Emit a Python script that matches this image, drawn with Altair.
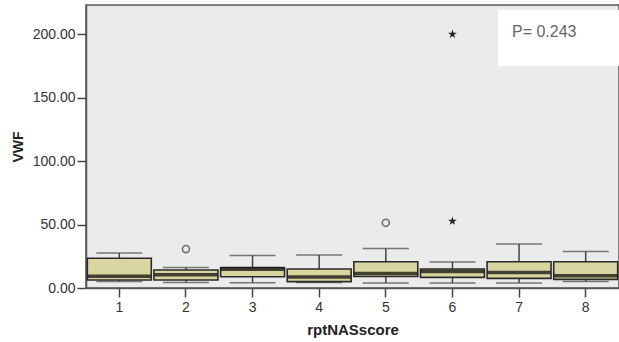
import altair as alt
import pandas as pd

cats = ["1", "2", "3", "4", "5", "6", "7", "8"]
mins = [5.2, 4.4, 4.2, 4.4, 3.9, 3.9, 3.9, 5.2]
q1s = [6.3, 6.3, 8.9, 5.0, 9.1, 8.4, 7.6, 6.8]
medians = [9.2, 10.5, 14.8, 8.6, 11.5, 13.0, 12.3, 9.7]
q3s = [23.5, 14.2, 16.2, 15.0, 20.7, 15.0, 20.7, 20.7]
maxs = [27.5, 16.2, 25.7, 26.0, 31.2, 20.5, 34.6, 28.8]

out_cats = ["2", "5", "6", "6"]
out_vals = [30.7, 51.4, 52.7, 200.0]
out_kind = ["circle", "circle", "star", "star"]

box = pd.DataFrame({"cat": cats, "lo": mins, "q1": q1s, "med": medians, "q3": q3s, "hi": maxs})
outl = pd.DataFrame({"cat": out_cats, "val": out_vals, "kind": out_kind})

xs = alt.X("cat:N", title="rptNASscore", sort=cats,
           scale=alt.Scale(paddingInner=0.04, paddingOuter=0.02),
           axis=alt.Axis(labelAngle=0, labelFontSize=14, labelColor="#333", labelFont="Liberation Sans",
                         titleFontSize=15, titleFont="Liberation Sans", titleFontWeight="bold",
                         titleColor="#222", titlePadding=8, tickSize=9, tickColor="#444",
                         tickWidth=1.5, domainColor="#555", domainWidth=1.5, labelPadding=3))
ysc = alt.Scale(domain=[0, 223], nice=False, zero=False)
yax = alt.Axis(values=[0, 50, 100, 150, 200], format=".2f", grid=False, labelFontSize=14,
               labelColor="#333", labelFont="Liberation Sans", titleFontSize=14,
               titleFont="Liberation Sans", titleFontWeight="bold", titleColor="#222",
               titlePadding=7, tickSize=9, tickColor="#444", tickWidth=1.5, domainColor="#555",
               domainWidth=1.5, labelPadding=2)

base = alt.Chart(box)

w_lo = base.mark_rule(color="#444", strokeWidth=1.5).encode(
    x=xs, y=alt.Y("lo:Q", title="VWF", scale=ysc, axis=yax), y2="q1:Q")
w_hi = base.mark_rule(color="#444", strokeWidth=1.5).encode(
    x=xs, y=alt.Y("q3:Q", scale=ysc), y2="hi:Q")
cap_lo = base.mark_tick(color="#444", size=46, thickness=1.5).encode(x=xs, y=alt.Y("lo:Q", scale=ysc))
cap_hi = base.mark_tick(color="#444", size=46, thickness=1.5).encode(x=xs, y=alt.Y("hi:Q", scale=ysc))
bars = base.mark_bar(color="#d9d5a0", stroke="#2a2a2a", strokeWidth=1.6).encode(
    x=xs, y=alt.Y("q1:Q", scale=ysc), y2="q3:Q")
med = base.mark_tick(color="#000", size=63, thickness=3.5).encode(x=xs, y=alt.Y("med:Q", scale=ysc))

circ = alt.Chart(outl).transform_filter(alt.datum.kind == "circle").mark_point(
    shape="circle", filled=False, color="#444", strokeWidth=1.7, size=50).encode(
    x=xs, y=alt.Y("val:Q", scale=ysc))
star_path = ("M0,-1L0.2245,-0.309L0.951,-0.309L0.363,0.118L0.588,0.809L0,0.382L-0.588,0.809"
             "L-0.363,0.118L-0.951,-0.309L-0.2245,-0.309Z")
stars = alt.Chart(outl).transform_filter(alt.datum.kind == "star").mark_point(
    shape=star_path, filled=True, color="#222", size=85, opacity=1).encode(
    x=xs, y=alt.Y("val:Q", scale=ysc))

note_box = alt.Chart(pd.DataFrame({"a": [0]})).mark_rect(color="white").encode(
    x=alt.value(412), x2=alt.value(533), y=alt.value(5), y2=alt.value(61))
note_txt = alt.Chart(pd.DataFrame({"t": ["P= 0.243"]})).mark_text(
    align="left", baseline="alphabetic", fontSize=16, color="#666", font="Liberation Sans").encode(
    x=alt.value(426), y=alt.value(32), text="t:N")

chart = alt.layer(w_lo, w_hi, cap_lo, cap_hi, bars, med, circ, stars, note_box, note_txt).properties(
    width=533, height=283, autosize="none",
    padding={"left": 86, "top": 5, "right": 0, "bottom": 54},
    background="white",
).configure_view(fill="#ebebeb", stroke="#555", strokeWidth=1.5)

chart.save("out.html", embed_options={"renderer": "svg", "actions": False})
